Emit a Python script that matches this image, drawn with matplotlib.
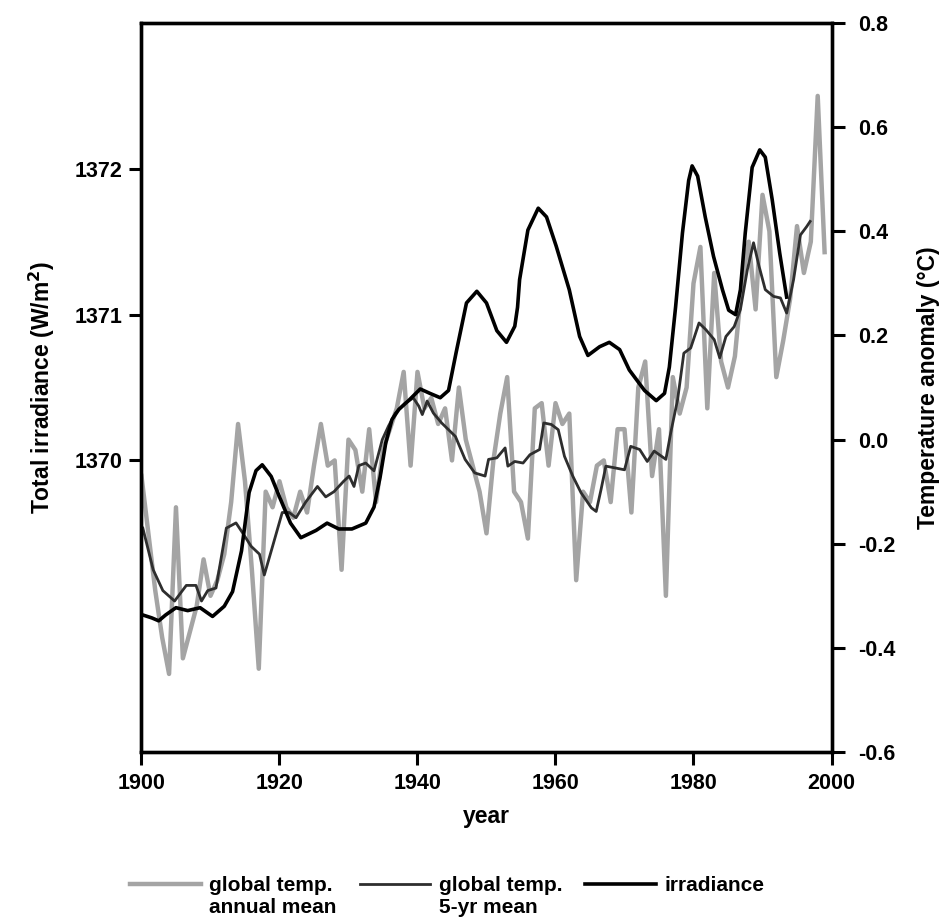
import matplotlib
matplotlib.use("Agg")
import matplotlib.pyplot as plt
from matplotlib.legend_handler import HandlerLine2D
import numpy as np

# annual global temperature anomaly (deg C)
years = np.arange(1900, 2000)
temp_annual = [
    -0.07, -0.18, -0.29, -0.38, -0.45, -0.13, -0.42, -0.37, -0.32, -0.23,
    -0.30, -0.27, -0.22, -0.12, 0.03, -0.08, -0.25, -0.44, -0.10, -0.13,
    -0.08, -0.13, -0.15, -0.10, -0.14, -0.05, 0.03, -0.05, -0.04, -0.25,
    0.00, -0.02, -0.10, 0.02, -0.12, -0.02, 0.02, 0.06, 0.13, -0.05,
    0.13, 0.06, 0.08, 0.03, 0.06, -0.04, 0.10, 0.00, -0.05, -0.10,
    -0.18, -0.04, 0.05, 0.12, -0.10, -0.12, -0.19, 0.06, 0.07, -0.05,
    0.07, 0.03, 0.05, -0.27, -0.10, -0.12, -0.05, -0.04, -0.12, 0.02,
    0.02, -0.14, 0.10, 0.15, -0.07, 0.02, -0.30, 0.12, 0.05, 0.10,
    0.30, 0.37, 0.06, 0.32, 0.15, 0.10, 0.16, 0.30, 0.38, 0.25,
    0.47, 0.40, 0.12, 0.19, 0.27, 0.41, 0.32, 0.38, 0.66, 0.36,
]

# 5-yr running mean of the temperature (deg C)
mean5_years = [
    1900.2, 1901.7, 1903.1, 1904.8, 1906.5, 1907.9, 1908.7, 1909.6, 1910.8, 1912.3,
    1913.7, 1914.7, 1915.9, 1917.1, 1917.8, 1919.0, 1920.4, 1921.4, 1922.4, 1923.8,
    1925.5, 1926.7, 1927.9, 1929.3, 1930.1, 1930.8, 1931.5, 1932.5, 1933.7, 1934.9,
    1935.8, 1936.8, 1938.2, 1939.4, 1940.2, 1940.7, 1941.4, 1942.3, 1943.5, 1944.5,
    1945.5, 1946.9, 1948.3, 1949.8, 1950.3, 1951.5, 1952.7, 1953.1, 1954.1, 1955.3,
    1956.3, 1957.7, 1958.3, 1959.4, 1960.4, 1961.3, 1962.5, 1963.7, 1965.2, 1965.9,
    1966.6, 1967.3, 1968.5, 1970.0, 1970.9, 1972.2, 1973.3, 1974.3, 1976.0, 1976.7,
    1977.7, 1978.6, 1979.6, 1980.8, 1981.8, 1983.0, 1983.8, 1984.7, 1985.9, 1986.8,
    1987.8, 1988.7, 1989.5, 1990.4, 1991.6, 1992.6, 1993.5, 1994.5, 1995.5, 1996.4,
    1996.9,
]
mean5_vals = [
    -0.17, -0.25, -0.29, -0.31, -0.28, -0.28, -0.31, -0.29, -0.285, -0.17,
    -0.16, -0.18, -0.205, -0.22, -0.26, -0.205, -0.14, -0.14, -0.15, -0.12,
    -0.09, -0.11, -0.10, -0.08, -0.07, -0.09, -0.05, -0.045, -0.06, 0.0,
    0.026, 0.051, 0.07, 0.08, 0.064, 0.048, 0.074, 0.051, 0.032, 0.019,
    0.006, -0.038, -0.064, -0.07, -0.038, -0.035, -0.016, -0.051, -0.042, -0.045,
    -0.029, -0.019, 0.032, 0.029, 0.019, -0.032, -0.07, -0.102, -0.131, -0.138,
    -0.096, -0.051, -0.054, -0.058, -0.013, -0.019, -0.042, -0.022, -0.038, 0.013,
    0.077, 0.166, 0.176, 0.224, 0.211, 0.192, 0.157, 0.198, 0.217, 0.25,
    0.326, 0.378, 0.333, 0.288, 0.275, 0.272, 0.243, 0.307, 0.393, 0.409,
    0.419,
]

# total solar irradiance (W/m^2)
irr_years = [
    1900.2, 1901.5, 1902.5, 1903.5, 1905.0, 1906.7, 1908.5, 1910.3, 1912.0, 1913.2,
    1914.5, 1915.6, 1916.6, 1917.5, 1918.8, 1920.0, 1921.6, 1923.1, 1925.3, 1926.9,
    1928.6, 1930.5, 1932.5, 1933.7, 1934.6, 1935.4, 1936.3, 1937.3, 1938.7, 1940.4,
    1941.8, 1943.3, 1944.5, 1945.6, 1947.1, 1948.6, 1950.0, 1951.5, 1952.9, 1954.1,
    1954.5, 1954.8, 1956.0, 1957.5, 1958.7, 1960.1, 1962.0, 1963.5, 1964.7, 1966.4,
    1967.8, 1969.3, 1970.7, 1972.9, 1974.6, 1975.8, 1976.5, 1977.4, 1978.4, 1979.3,
    1979.8, 1980.6, 1981.7, 1982.9, 1984.2, 1985.1, 1986.1, 1986.8, 1987.5, 1988.5,
    1989.6, 1990.4, 1991.4, 1992.5, 1993.5,
]
irr_vals = [
    1368.94, 1368.92, 1368.90, 1368.94, 1368.99, 1368.97, 1368.99, 1368.93, 1369.00, 1369.10,
    1369.38, 1369.78, 1369.93, 1369.97, 1369.89, 1369.75, 1369.57, 1369.47, 1369.52, 1369.57,
    1369.53, 1369.53, 1369.57, 1369.68, 1369.89, 1370.12, 1370.28, 1370.35, 1370.41, 1370.49,
    1370.46, 1370.43, 1370.48, 1370.74, 1371.08, 1371.16, 1371.08, 1370.89, 1370.81, 1370.92,
    1371.05, 1371.24, 1371.58, 1371.73, 1371.67, 1371.47, 1371.17, 1370.85, 1370.72, 1370.78,
    1370.81, 1370.76, 1370.62, 1370.48, 1370.41, 1370.46, 1370.64, 1371.05, 1371.56, 1371.92,
    1372.02, 1371.95, 1371.67, 1371.40, 1371.17, 1371.03, 1371.00, 1371.17, 1371.56, 1372.01,
    1372.13, 1372.08, 1371.79, 1371.42, 1371.12,
]

narrow = ['Liberation Sans Narrow', 'Liberation Sans', 'DejaVu Sans']
plt.rcParams['font.family'] = ['Liberation Sans', 'DejaVu Sans']
plt.rcParams['font.weight'] = 'bold'


class FirstLineHandler(HandlerLine2D):
    # legend line drawn level with the first text line, not the middle of two
    def create_artists(self, legend, orig_handle, xdescent, ydescent,
                       width, height, fontsize, trans):
        return super().create_artists(legend, orig_handle, xdescent,
                                      ydescent - 1.25 * fontsize, width, height,
                                      fontsize, trans)


fig = plt.figure(figsize=(9.45, 9.24), dpi=100)
ax = fig.add_axes([0.1497, 0.1861, 0.7302, 0.789])
ax2 = ax.twinx()

l1, = ax2.plot(years, temp_annual, color='#a4a4a4', lw=3.2, solid_joinstyle='round')
l2, = ax2.plot(mean5_years, mean5_vals, color='#2e2e2e', lw=2.0)
l3, = ax.plot(irr_years, irr_vals, color='black', lw=2.6)
ax.set_zorder(ax2.get_zorder() + 1)
ax.patch.set_visible(False)

ax.set_xlim(1900, 2000)
ax.set_ylim(1368, 1373)
ax2.set_ylim(-0.6, 0.8)
ax.set_xticks(np.arange(1900, 2001, 20))
ax.set_yticks([1370, 1371, 1372])
ax2.set_yticks(np.arange(-0.6, 0.81, 0.2))
ax2.set_yticklabels(['%.1f' % v for v in np.arange(-0.6, 0.81, 0.2)])

for a in (ax, ax2):
    for s in a.spines.values():
        s.set_linewidth(2.4)
ax.tick_params(axis='both', direction='out', length=9, width=2.2, labelsize=15.5)
ax.tick_params(axis='x', pad=6)
ax.tick_params(axis='y', pad=5)
ax2.tick_params(axis='y', direction='out', length=9, width=2.2, labelsize=15.5, pad=10)
for lab in ax.get_xticklabels() + ax.get_yticklabels() + ax2.get_yticklabels():
    lab.set_fontweight('heavy')

ax.set_xlabel('year', fontsize=16.5, family=narrow, fontweight='bold', labelpad=8)
ax.set_ylabel('Total irradiance (W/m$^\\mathbf{2}$)', fontsize=16.5, family=narrow,
              fontweight='bold', labelpad=12)
ax2.set_ylabel('Temperature anomaly (°C)', fontsize=16.5, family=narrow,
               fontweight='bold', labelpad=16)

leg = fig.legend([l1, l2, l3],
                 ['global temp.\nannual mean', 'global temp.\n5-yr mean', 'irradiance\n '],
                 loc='lower left', bbox_to_anchor=(0.13, 0.0), ncol=3, frameon=False,
                 handlelength=3.4, columnspacing=1.1, handletextpad=0.4,
                 borderpad=0.2, borderaxespad=0.15,
                 handler_map={l1: FirstLineHandler(), l2: FirstLineHandler(),
                              l3: FirstLineHandler()},
                 prop={'family': narrow, 'size': 15, 'weight': 'bold'})
for t in leg.get_texts():
    t.set_linespacing(1.15)

fig.savefig('out.png', dpi=100)
